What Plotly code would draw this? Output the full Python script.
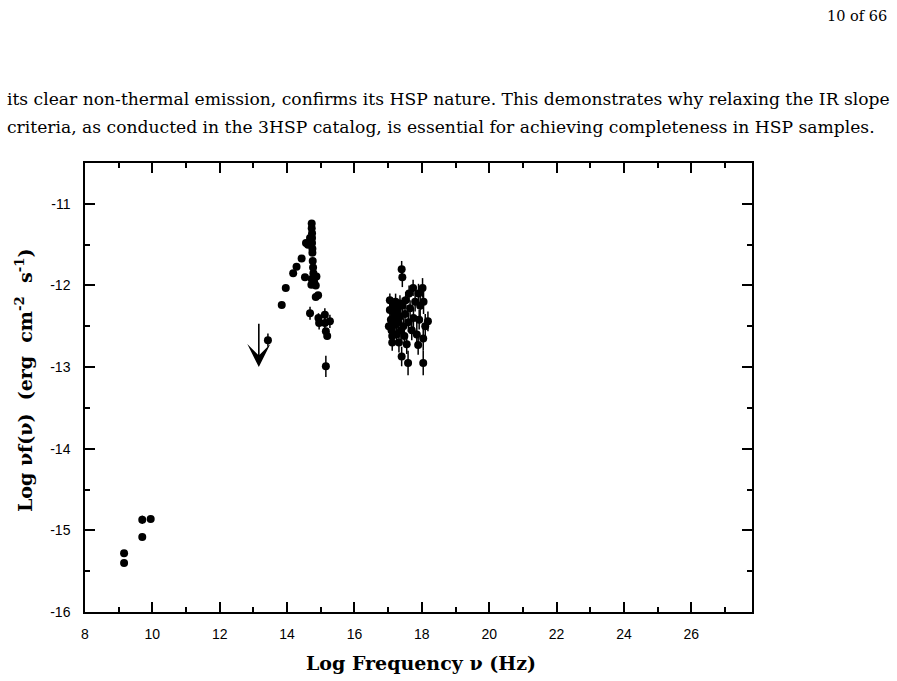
import plotly.graph_objects as go

# ---------------- data ----------------
# radio
radio_x = [9.16, 9.16, 9.70, 9.70, 9.95]
radio_y = [-15.28, -15.40, -15.08, -14.87, -14.86]
radio_e = [0.03, 0.03, 0.03, 0.05, 0.02]

# IR / optical / UV
opt_x = [13.43, 13.84, 13.96, 14.18, 14.28, 14.43, 14.53, 14.56, 14.62, 14.68,
         14.73, 14.73, 14.74, 14.74, 14.74, 14.75, 14.75, 14.76, 14.77, 14.78,
         14.73, 14.72, 14.87, 14.80, 14.85, 14.92, 14.85, 14.68, 14.95, 14.93,
         15.12, 15.12, 15.27, 15.15, 15.19, 15.15]
opt_y = [-12.67, -12.24, -12.03, -11.85, -11.77, -11.67, -11.90, -11.48, -11.50, -11.42,
         -11.24, -11.30, -11.36, -11.42, -11.48, -11.55, -11.60, -11.70, -11.78, -11.85,
         -11.92, -11.99, -11.89, -11.95, -12.00, -12.12, -12.14, -12.34, -12.46, -12.40,
         -12.36, -12.46, -12.44, -12.56, -12.62, -12.99]
opt_e = [0.08, 0.02, 0.02, 0.02, 0.02, 0.02, 0.02, 0.03, 0.03, 0.03,
         0.02, 0.02, 0.02, 0.02, 0.02, 0.02, 0.02, 0.02, 0.03, 0.03,
         0.03, 0.03, 0.03, 0.03, 0.03, 0.03, 0.03, 0.08, 0.08, 0.06,
         0.08, 0.06, 0.08, 0.04, 0.04, 0.13]

# upper limit
ul_x = [13.16]
ul_y = [-12.45]
ul_len = [0.55]

# X-ray
xr_x = [17.40, 17.42, 17.05, 17.05, 17.08, 17.10, 17.12, 17.15, 17.18, 17.20,
        17.22, 17.25, 17.28, 17.30, 17.32, 17.35, 17.38, 17.40, 17.42, 17.45,
        17.48, 17.50, 17.52, 17.55, 17.59, 17.60, 17.62, 17.65, 17.70, 17.74,
        17.75, 17.80, 17.85, 17.89, 17.90, 17.92, 17.95, 18.02, 18.04, 18.04,
        18.05, 18.10, 18.18, 17.12, 17.25, 17.35, 17.02]
xr_y = [-11.80, -11.90, -12.18, -12.30, -12.42, -12.55, -12.62, -12.25, -12.35, -12.48,
        -12.20, -12.60, -12.30, -12.45, -12.70, -12.38, -12.55, -12.87, -12.25, -12.50,
        -12.62, -12.35, -12.18, -12.72, -12.95, -12.45, -12.10, -12.28, -12.55, -12.03,
        -12.40, -12.20, -12.60, -12.73, -12.10, -12.42, -12.25, -12.03, -12.65, -12.95,
        -12.20, -12.50, -12.44, -12.70, -12.40, -12.22, -12.50]
xr_e = [0.10, 0.12, 0.08, 0.08, 0.10, 0.10, 0.10, 0.08, 0.10, 0.10,
        0.10, 0.12, 0.10, 0.10, 0.12, 0.10, 0.12, 0.12, 0.10, 0.10,
        0.12, 0.10, 0.10, 0.12, 0.15, 0.12, 0.10, 0.10, 0.12, 0.10,
        0.12, 0.12, 0.15, 0.12, 0.12, 0.12, 0.15, 0.12, 0.15, 0.15,
        0.15, 0.15, 0.12, 0.10, 0.10, 0.10, 0.08]

x_ticks = [8, 10, 12, 14, 16, 18, 20, 22, 24, 26]
y_ticks = [-11, -12, -13, -14, -15, -16]

# ---------------- figure ----------------
W, H = 897, 681
L, R, T, B = 85, 145, 163, 69
pw, ph = W - L - R, H - T - B


def px2paper_x(px):
    return (px - L) / pw


def py2paper_y(py):
    return (H - B - py) / ph


fig = go.Figure()

for xs, ys, es in [(radio_x, radio_y, radio_e), (opt_x, opt_y, opt_e), (xr_x, xr_y, xr_e)]:
    fig.add_trace(go.Scatter(
        x=xs, y=ys, mode="markers",
        marker=dict(color="black", size=8, line=dict(width=0)),
        error_y=dict(type="data", array=es, color="black", thickness=1.5, width=0),
        showlegend=False, hoverinfo="x+y",
    ))

# upper limit arrow
for ux, uy, ul in zip(ul_x, ul_y, ul_len):
    fig.add_annotation(
        x=ux, y=uy - ul, ax=ux, ay=uy,
        xref="x", yref="y", axref="x", ayref="y",
        showarrow=True, arrowhead=3, arrowsize=2.4, arrowwidth=1.6,
        arrowcolor="black", text="",
    )

axis_common = dict(
    showline=True, linecolor="black", linewidth=1.5, mirror="allticks",
    ticks="inside", ticklen=10, tickwidth=1.5, tickcolor="black",
    showgrid=False, zeroline=False,
    tickfont=dict(family="Liberation Sans, Arial, sans-serif", size=14, color="black"),
)

fig.update_xaxes(
    range=[8, 27.8], tickvals=x_ticks, ticktext=[str(v) for v in x_ticks],
    minor=dict(dtick=1, tick0=8, ticks="inside", ticklen=5, tickwidth=1.5, tickcolor="black", showgrid=False),
    ticklabelstandoff=8,
    **axis_common,
)
fig.update_yaxes(
    range=[-16, -10.5], tickvals=y_ticks, ticktext=[str(v) for v in y_ticks],
    minor=dict(dtick=0.5, tick0=-16, ticks="inside", ticklen=5, tickwidth=1.5, tickcolor="black", showgrid=False),
    ticklabelstandoff=10,
    **axis_common,
)

title_font = dict(family="DejaVu Serif, serif", size=19, color="black", weight="bold")
sp = "\u00a0"
fig.add_annotation(
    text="Log Frequency ν (Hz)", xref="paper", yref="paper",
    x=px2paper_x(421), y=py2paper_y(663), showarrow=False,
    xanchor="center", yanchor="middle", font=title_font,
)
fig.add_annotation(
    text=f"Log{sp}νf(ν){sp} (erg{sp} cm<sup>-2</sup>{sp} s<sup>-1</sup>)", xref="paper", yref="paper",
    x=px2paper_x(24), y=py2paper_y(381), showarrow=False, textangle=-90,
    xanchor="center", yanchor="middle", font=title_font,
)

page_font = dict(family="DejaVu Serif, serif", size=17.15, color="black")
fig.add_annotation(
    text="its clear non-thermal emission, confirms its HSP nature. This demonstrates why relaxing the IR slope",
    xref="paper", yref="paper", x=px2paper_x(5), y=py2paper_y(99), showarrow=False,
    xanchor="left", yanchor="middle", font=page_font,
)
fig.add_annotation(
    text="criteria, as conducted in the 3HSP catalog, is essential for achieving completeness in HSP samples.",
    xref="paper", yref="paper", x=px2paper_x(5), y=py2paper_y(127), showarrow=False,
    xanchor="left", yanchor="middle", font=page_font,
)
fig.add_annotation(
    text="10 of 66", xref="paper", yref="paper", x=px2paper_x(889), y=py2paper_y(16),
    showarrow=False, xanchor="right", yanchor="middle",
    font=dict(family="DejaVu Serif, serif", size=14.5, color="black"),
)

fig.update_layout(
    width=W, height=H, autosize=False,
    margin=dict(l=L, r=R, t=T, b=B, pad=0),
    paper_bgcolor="white", plot_bgcolor="white",
    showlegend=False,
)

fig.write_html("out.html")
